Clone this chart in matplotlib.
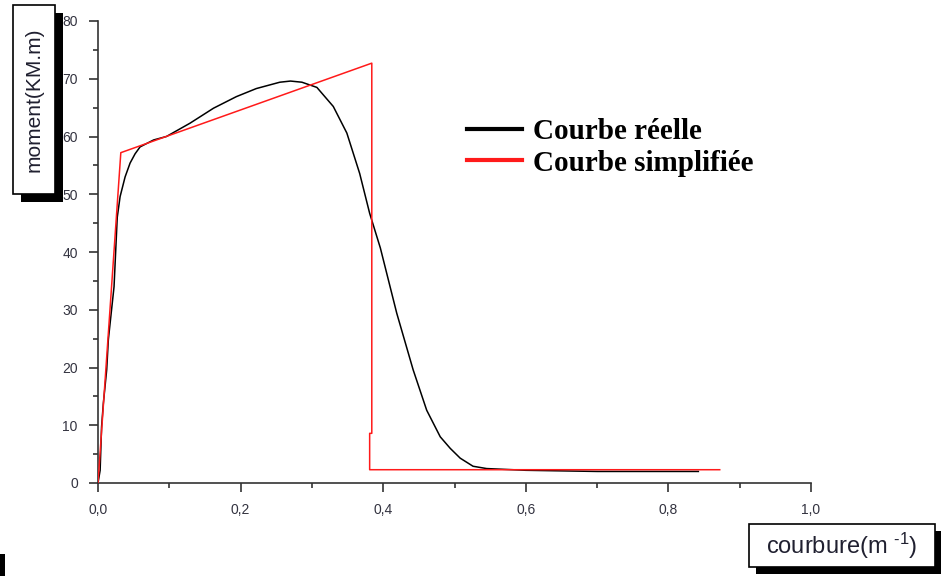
import matplotlib
matplotlib.use("Agg")
import matplotlib.pyplot as plt
from matplotlib.lines import Line2D
from matplotlib.patches import Rectangle
from matplotlib.ticker import MultipleLocator

plt.rcParams['mathtext.default'] = 'regular'

# ---- data ----
real_x = [0, 0.003, 0.005, 0.0075, 0.0122, 0.0145, 0.0225, 0.027, 0.031, 0.038, 0.045,
          0.052, 0.059, 0.078, 0.096, 0.129, 0.162, 0.194, 0.222, 0.255, 0.270, 0.286,
          0.307, 0.330, 0.349, 0.367, 0.381, 0.396, 0.419, 0.442, 0.461, 0.480, 0.494,
          0.508, 0.526, 0.545, 0.60, 0.70, 0.842]
real_y = [0, 2.2, 9.7, 13.8, 19.6, 24.8, 34.0, 46.0, 49.6, 53.0, 55.4,
          57.0, 58.2, 59.4, 60.0, 62.3, 64.9, 66.9, 68.3, 69.4, 69.6, 69.4,
          68.5, 65.2, 60.6, 53.6, 46.7, 40.7, 29.4, 19.6, 12.6, 8.0, 6.0,
          4.3, 2.9, 2.5, 2.2, 2.0, 2.0]

simp_x = [0, 0.032, 0.384, 0.384, 0.381, 0.381, 0.872]
simp_y = [0, 57.2, 72.7, 8.6, 8.6, 2.3, 2.3]

x_ticks = [0.0, 0.2, 0.4, 0.6, 0.8, 1.0]
x_tick_labels = ["0,0", "0,2", "0,4", "0,6", "0,8", "1,0"]
y_ticks = [0, 10, 20, 30, 40, 50, 60, 70, 80]
y_tick_labels = ["0", "10", "20", "30", "40", "50", "60", "70", "80"]

series_labels = ["Courbe réelle", "Courbe simplifiée"]
series_colors = ["#000000", "#ff1a1a"]
x_label = "courbure(m $^{\u2010 1}$)"
y_label = "moment(KM.m)"

# ---- figure ----
W, H = 941, 576
fig = plt.figure(figsize=(W / 100, H / 100), dpi=100)
fig.patch.set_facecolor("white")

def fx(px):
    return px / W

def fy(py):
    return (H - py) / H

ax = fig.add_axes([fx(98), fy(483), fx(811) - fx(98), fy(21) - fy(483)])
ax.plot(real_x, real_y, color=series_colors[0], lw=1.1, zorder=2)
ax.plot(simp_x, simp_y, color=series_colors[1], lw=1.1, zorder=3)

ax.set_xlim(0, 1.0)
ax.set_ylim(0, 80)
ax.spines['top'].set_visible(False)
ax.spines['right'].set_visible(False)
for s in ['left', 'bottom']:
    ax.spines[s].set_color('#333333')
    ax.spines[s].set_linewidth(1.2)
ax.set_xticks(x_ticks)
ax.set_xticklabels(x_tick_labels)
ax.set_yticks(y_ticks)
ax.set_yticklabels(y_tick_labels)
ax.xaxis.set_minor_locator(MultipleLocator(0.1))
ax.yaxis.set_minor_locator(MultipleLocator(5))
ax.tick_params(which='major', direction='out', length=6.5, width=1.2, color='#333333',
               labelsize=10, labelcolor='#333340', pad=8)
ax.tick_params(which='minor', direction='out', length=3.5, width=1.2, color='#333333')
for lab in ax.get_xticklabels() + ax.get_yticklabels():
    lab.set_family('Liberation Sans')

handles = [Line2D([], [], color=series_colors[0], lw=3),
           Line2D([], [], color=series_colors[1], lw=3)]
ax.legend(handles, series_labels, loc='upper left',
          bbox_to_anchor=(fx(467), fy(118)), bbox_transform=fig.transFigure,
          frameon=False, borderpad=0, borderaxespad=0, handlelength=1.88,
          handletextpad=0.38, labelspacing=0.16,
          prop={'family': 'Liberation Serif', 'weight': 'bold', 'size': 21})

# ---- label boxes with shadows ----
def boxed(x0, y0, x1, y1, dx, dy, text, rot, size):
    fig.add_artist(Rectangle((fx(x0 + dx), fy(y1 + dy)), fx(x1 - x0), fy(y0) - fy(y1),
                             transform=fig.transFigure, facecolor='black',
                             edgecolor='none', zorder=5))
    fig.add_artist(Rectangle((fx(x0), fy(y1)), fx(x1 - x0), fy(y0) - fy(y1),
                             transform=fig.transFigure, facecolor='white',
                             edgecolor='black', lw=1.2, zorder=6))
    fig.text(fx((x0 + x1) / 2), fy((y0 + y1) / 2), text, rotation=rot,
             ha='center', va='center', fontsize=size, family='Liberation Sans',
             color='#202030', zorder=7)

boxed(13, 5, 55, 194, 8, 8, y_label, 90, 15)
boxed(749, 524, 935, 567, 7, 7, x_label, 0, 17)

# small dark mark at bottom-left corner
fig.add_artist(Rectangle((0, 0), fx(5), fy(554), transform=fig.transFigure,
                         facecolor='black', edgecolor='none', zorder=5))

fig.savefig("out.png", dpi=100)
